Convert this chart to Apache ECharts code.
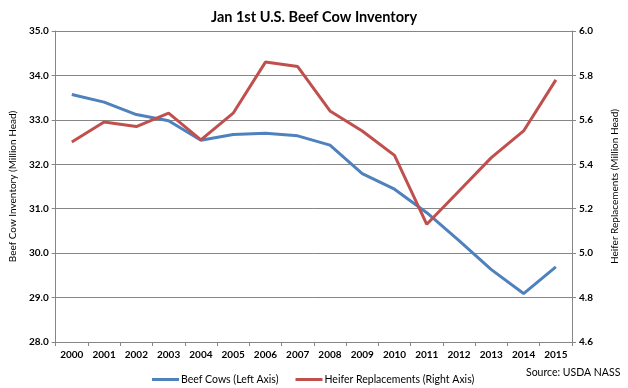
<!DOCTYPE html>
<html><head><meta charset="utf-8">
<script src="https://cdn.jsdelivr.net/npm/echarts@6/dist/echarts.min.js"></script>
<style>html,body{margin:0;padding:0;background:#fff}#c{width:628px;height:388px}</style>
</head><body><div id="c"></div>
<script>
var years = ['2000','2001','2002','2003','2004','2005','2006','2007','2008','2009','2010','2011','2012','2013','2014','2015'];
var beefCows = [33.57,33.40,33.12,32.98,32.54,32.67,32.70,32.64,32.43,31.79,31.44,30.91,30.28,29.63,29.09,29.69];
var heifers = [5.50,5.59,5.57,5.63,5.51,5.63,5.86,5.84,5.64,5.55,5.44,5.13,5.28,5.43,5.55,5.78];
var FONT = 'Lato';
var chart = echarts.init(document.getElementById('c'));
chart.setOption({
  animation:false,
  textStyle:{fontFamily:FONT},
  title:{text:'Jan 1st U.S. Beef Cow Inventory',left:'center',top:5,textStyle:{fontFamily:FONT,fontSize:14.5,fontWeight:'bold',color:'#000'}},
  grid:{left:53,right:52,top:31,bottom:46},
  legend:{left:147,top:369,itemWidth:27,itemHeight:3,itemGap:17,icon:'rect',
    textStyle:{fontFamily:FONT,fontSize:10.5,color:'#000',padding:[0,0,0,-3]},
    data:['Beef Cows (Left Axis)','Heifer Replacements (Right Axis)']},
  graphic:[{type:'text',left:526,top:367,style:{text:'Source: USDA NASS',font:'10.5px '+FONT,fill:'#000'}}],
  xAxis:{type:'category',data:years,boundaryGap:true,
    axisLine:{lineStyle:{color:'#868686'}},
    axisTick:{show:true,length:4,lineStyle:{color:'#868686'}},
    axisLabel:{fontFamily:FONT,fontSize:10,fontWeight:'bold',color:'#000',margin:8}},
  yAxis:[
    {type:'value',min:28,max:35,interval:1,position:'left',
     name:'Beef Cow Inventory (Million Head)',nameLocation:'middle',nameGap:36,
     nameTextStyle:{fontFamily:FONT,fontSize:10,color:'#000'},
     axisLine:{show:true,lineStyle:{color:'#868686'}},
     axisTick:{show:true,length:4,lineStyle:{color:'#868686'}},
     splitLine:{lineStyle:{color:'#868686'}},
     axisLabel:{fontFamily:FONT,fontSize:10,fontWeight:'bold',color:'#000',margin:7,formatter:function(v){return v.toFixed(1);}}},
    {type:'value',min:4.6,max:6.0,interval:0.2,position:'right',
     name:'Heifer Replacements (Million Head)',nameLocation:'middle',nameGap:38,nameRotate:90,
     nameTextStyle:{fontFamily:FONT,fontSize:10,color:'#000'},
     axisLine:{show:true,lineStyle:{color:'#868686'}},
     axisTick:{show:true,length:4,lineStyle:{color:'#868686'}},
     splitLine:{show:false},
     axisLabel:{fontFamily:FONT,fontSize:10,fontWeight:'bold',color:'#000',margin:7,formatter:function(v){return v.toFixed(1);}}}
  ],
  series:[
    {name:'Beef Cows (Left Axis)',type:'line',yAxisIndex:0,data:beefCows,symbol:'none',
     lineStyle:{color:'#4F81BD',width:3},itemStyle:{color:'#4F81BD'}},
    {name:'Heifer Replacements (Right Axis)',type:'line',yAxisIndex:1,data:heifers,symbol:'none',
     lineStyle:{color:'#C0504D',width:3},itemStyle:{color:'#C0504D'}}
  ]
});
</script></body></html>
